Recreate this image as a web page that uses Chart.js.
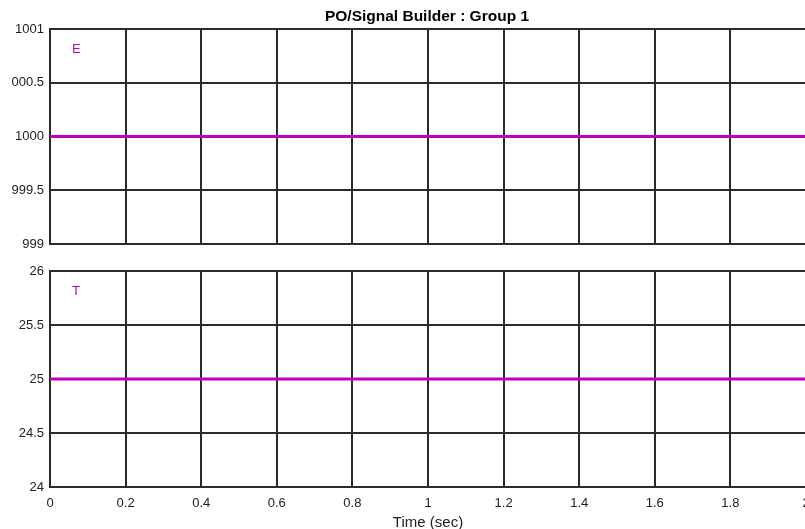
<!DOCTYPE html>
<html>
<head>
<meta charset="utf-8">
<script src="https://cdn.jsdelivr.net/npm/chart.js@4.4.1/dist/chart.umd.min.js"></script>
<style>
  html, body { margin: 0; padding: 0; background: #fff; }
  body { width: 805px; height: 529px; overflow: hidden; position: relative; }
  .clip { position: absolute; left: 12px; width: 793px; overflow: hidden; }
  .clip canvas { position: absolute; left: -32px; top: 0; }
  #title {
    position: absolute; top: 6px; left: 227px; width: 400px; text-align: center;
    font: bold 15.5px Arial, "Liberation Sans", sans-serif; color: #000; line-height: 20px;
  }
</style>
</head>
<body>
<div class="clip" style="top:0;height:258px"><canvas id="top" width="900" height="258"></canvas></div>
<div class="clip" style="top:250px;height:282px"><canvas id="bottom" width="900" height="282"></canvas></div>
<div id="title">PO/Signal Builder : Group 1</div>
<script>
const timePoints = [0, 2];
const signalE = [1000, 1000];
const signalT = [25, 25];
const xTicks = [0, 0.2, 0.4, 0.6, 0.8, 1, 1.2, 1.4, 1.6, 1.8, 2];
const eTicks = [999, 999.5, 1000, 1000.5, 1001];
const tTicks = [24, 24.5, 25, 25.5, 26];

const gridColor = '#2b2b2b';
const lineColor = '#c000c0';
const font = { family: 'Arial, "Liberation Sans", sans-serif', size: 13 };

// signal name written in the upper-left corner of each axes
const nameLabel = {
  id: 'nameLabel',
  afterDraw(chart, args, opts) {
    const { ctx, chartArea } = chart;
    ctx.save();
    ctx.fillStyle = lineColor;
    ctx.font = '13px Arial, "Liberation Sans", sans-serif';
    ctx.textBaseline = 'middle';
    ctx.fillText(opts.text, chartArea.left + 22, chartArea.top + 20);
    ctx.restore();
  }
};

function makeChart(id, values, yTicks, opts) {
  return new Chart(document.getElementById(id), {
    type: 'line',
    data: {
      datasets: [{
        data: timePoints.map((t, i) => ({ x: t, y: values[i] })),
        borderColor: lineColor,
        borderWidth: 3,
        pointRadius: 0,
        fill: false
      }]
    },
    options: {
      responsive: false,
      animation: false,
      layout: { padding: { top: opts.padTop, right: 74, left: 0, bottom: 0 } },
      plugins: {
        legend: { display: false },
        tooltip: { enabled: false },
        nameLabel: { text: opts.name }
      },
      scales: {
        x: {
          type: 'linear',
          min: 0,
          max: 2,
          afterBuildTicks: s => { s.ticks = xTicks.map(v => ({ value: v })); },
          afterFit: s => { s.height = opts.xHeight; },
          ticks: {
            display: opts.showX,
            color: '#222',
            font: font,
            padding: 9,
            maxRotation: 0,
            autoSkip: false,
            callback: v => String(+v.toFixed(1))
          },
          grid: { color: gridColor, lineWidth: 2, drawTicks: false },
          border: { color: gridColor, width: 2 },
          title: opts.showX ? {
            display: true,
            text: 'Time (sec)',
            color: '#222',
            font: { family: font.family, size: 15 },
            padding: { top: 4, bottom: 0 }
          } : { display: false }
        },
        y: {
          min: yTicks[0],
          max: yTicks[yTicks.length - 1],
          afterBuildTicks: s => { s.ticks = yTicks.map(v => ({ value: v })); },
          afterFit: s => { s.width = 70; },
          ticks: {
            color: '#222', font: font, padding: 6, autoSkip: false,
            callback: v => String(v)
          },
          grid: { color: gridColor, lineWidth: 2, drawTicks: false },
          border: { color: gridColor, width: 2 }
        }
      }
    },
    plugins: [nameLabel]
  });
}

makeChart('top', signalE, eTicks, { name: 'E', padTop: 29, xHeight: 0, showX: false });
makeChart('bottom', signalT, tTicks, { name: 'T', padTop: 21, xHeight: 45, showX: true });
</script>
</body>
</html>
